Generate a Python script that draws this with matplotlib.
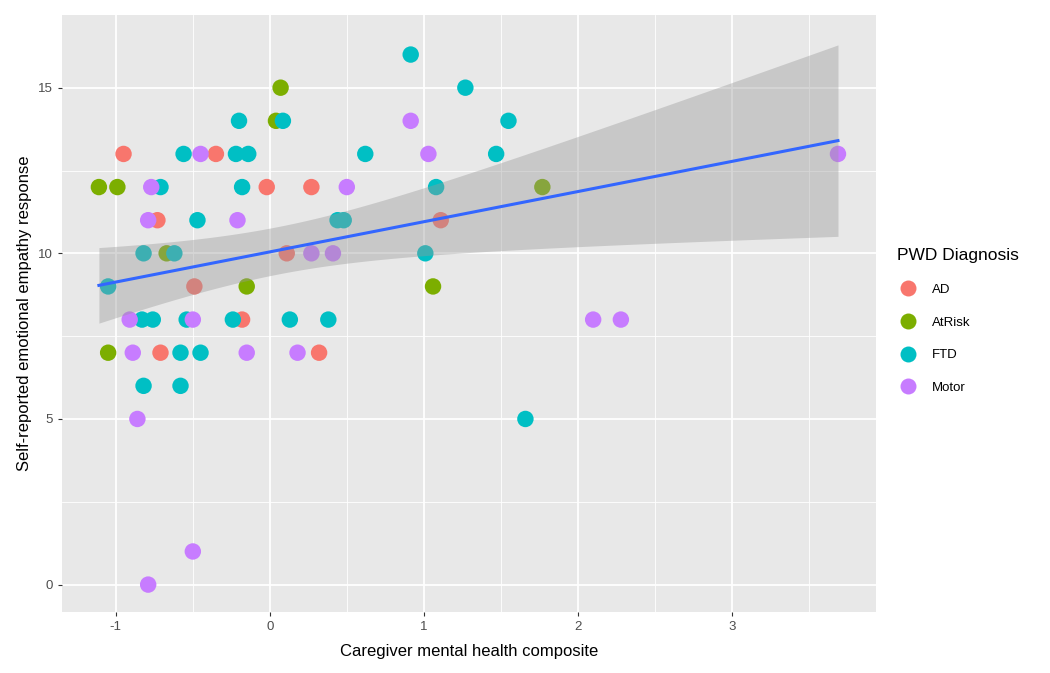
import numpy as np
import matplotlib
matplotlib.use("Agg")
import matplotlib.pyplot as plt
from matplotlib.lines import Line2D

plt.rcParams['font.family'] = ['Liberation Sans', 'DejaVu Sans']
plt.rcParams['axes.unicode_minus'] = False

# values, grouped by diagnosis
ad_x = [-0.95, -0.35, -0.02, 0.27, -0.73, 1.11, 0.11, -0.49, -0.18, -0.71, 0.32]
ad_y = [13, 13, 12, 12, 11, 11, 10, 9, 8, 7, 7]

atrisk_x = [0.07, 0.04, -1.11, -0.99, 1.77, -0.67, -0.15, 1.06, -1.05]
atrisk_y = [15, 14, 12, 12, 12, 10, 9, 9, 7]

ftd_x = [0.915, 1.27, 0.085, -0.2, 1.55, -0.56, -0.22, -0.14, 0.62, 1.47,
         -0.18, -0.71, 1.08, -0.47, 0.44, 0.48, -0.82, -0.62, 1.01, -1.05,
         -0.83, -0.76, -0.54, -0.24, 0.13, 0.38, -0.58, -0.45, -0.82, -0.58, 1.66]
ftd_y = [16, 15, 14, 14, 14, 13, 13, 13, 13, 13,
         12, 12, 12, 11, 11, 11, 10, 10, 10, 9,
         8, 8, 8, 8, 8, 8, 7, 7, 6, 6, 5]

motor_x = [0.915, -0.45, 1.03, 3.69, -0.77, 0.5, -0.79, -0.21, 0.27, 0.41,
           -0.91, -0.5, 2.10, 2.28, -0.89, -0.15, 0.18, -0.86, -0.5, -0.79]
motor_y = [14, 13, 13, 13, 12, 12, 11, 11, 10, 10,
           8, 8, 8, 8, 7, 7, 7, 5, 1, 0]

groups = ["AD", "AtRisk", "FTD", "Motor"]
colors = ["#F8766D", "#7CAE00", "#00BFC4", "#C77CFF"]
xs = [ad_x, atrisk_x, ftd_x, motor_x]
ys = [ad_y, atrisk_y, ftd_y, motor_y]

fig = plt.figure(figsize=(10.5, 6.73), dpi=100)
ax = fig.add_axes([0.059, 0.091, 0.775, 0.887])
ax.set_facecolor("#E8E8E8")

for gx, gy, c in zip(xs, ys, colors):
    ax.scatter(gx, gy, s=140, color=c, edgecolors="none", zorder=3)

# linear fit with 95% band, like geom_smooth(method = "lm")
all_x = np.concatenate([np.array(v, dtype=float) for v in xs])
all_y = np.concatenate([np.array(v, dtype=float) for v in ys])
n = len(all_x)
slope, inter = np.polyfit(all_x, all_y, 1)
resid = all_y - (slope * all_x + inter)
s_err = np.sqrt(np.sum(resid ** 2) / (n - 2))
xx = np.linspace(all_x.min(), all_x.max(), 100)
yy = slope * xx + inter
mx = all_x.mean()
se = s_err * np.sqrt(1 / n + (xx - mx) ** 2 / np.sum((all_x - mx) ** 2))
t = 1.99
ax.fill_between(xx, yy - t * se, yy + t * se, color="#999999", alpha=0.4,
                linewidth=0, zorder=4)
ax.plot(xx, yy, color="#3366FF", linewidth=2.2, zorder=5)

ax.set_xlim(-1.35, 3.935)
ax.set_ylim(-0.82, 17.2)
ax.set_xticks([-1, 0, 1, 2, 3])
ax.set_yticks([0, 5, 10, 15])
ax.set_xticks([-0.5, 0.5, 1.5, 2.5, 3.5], minor=True)
ax.set_yticks([2.5, 7.5, 12.5], minor=True)
ax.grid(which="major", color="white", linewidth=1.3)
ax.grid(which="minor", color="white", linewidth=0.6)
ax.set_axisbelow(True)
for sp in ax.spines.values():
    sp.set_visible(False)
ax.tick_params(which="major", length=3, color="#333333", labelsize=9.5,
               labelcolor="#4D4D4D")
ax.tick_params(which="minor", length=0)

ax.set_xlabel("Caregiver mental health composite", fontsize=12, color="black",
              labelpad=8)
ax.set_ylabel("Self-reported emotional empathy response", fontsize=12, color="black")

handles = [Line2D([], [], marker="o", linestyle="", markersize=11.5,
                  markerfacecolor=c, markeredgecolor="none") for c in colors]
leg = ax.legend(handles, groups, title="PWD Diagnosis", loc="center left",
                bbox_to_anchor=(1.012, 0.487), frameon=False, fontsize=9.5,
                title_fontsize=12.5, labelspacing=1.55, handletextpad=1.0,
                borderaxespad=0.5, handlelength=1.6)
leg._legend_box.align = "left"

fig.savefig("out.png", dpi=100)
